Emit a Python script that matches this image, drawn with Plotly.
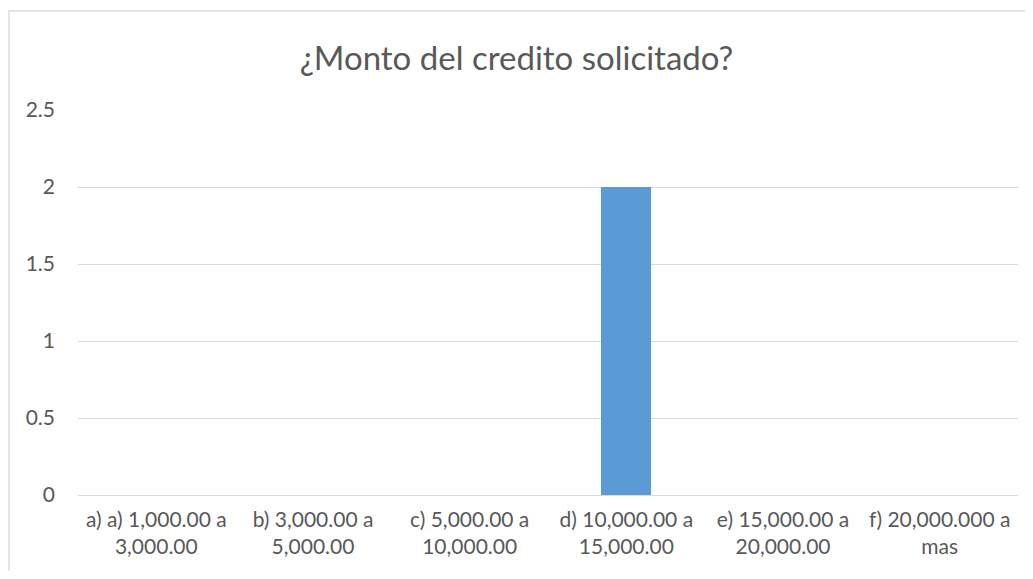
import plotly.graph_objects as go

categorias = [
    "a) a) 1,000.00 a<br>3,000.00",
    "b) 3,000.00 a<br>5,000.00",
    "c) 5,000.00 a<br>10,000.00",
    "d) 10,000.00 a<br>15,000.00",
    "e) 15,000.00 a<br>20,000.00",
    "f) 20,000.000 a<br>mas",
]
valores = [0, 0, 0, 2, 0, 0]
y_ticks = [0, 0.5, 1, 1.5, 2, 2.5]
y_labels = ["0", "0.5", "1", "1.5", "2", "2.5"]

# la pagina tiene 8px de margen en el body
fig = go.Figure(go.Bar(x=categorias, y=valores, marker_color="#5b9bd5",
                       marker_line_width=0, width=0.32))

fig.update_layout(
    width=1017, height=563,
    margin=dict(l=70, r=7, t=102, b=76),
    paper_bgcolor="white", plot_bgcolor="white",
    font=dict(family="Lato, Carlito, Calibri, sans-serif", color="#595959", size=21),
    title=dict(text="¿Monto del credito solicitado?", x=0.5, xanchor="center",
               y=1 - 50 / 563, yanchor="middle",
               font=dict(size=33, color="#595959")),
    showlegend=False,
    bargap=0,
)
fig.update_xaxes(showgrid=False, showline=False, ticks="", ticklabelstandoff=10,
                 tickfont=dict(size=21))
fig.update_yaxes(range=[0, 2.5], tickvals=y_ticks, ticktext=y_labels,
                 showgrid=True, gridcolor="#d9d9d9", gridwidth=1.3,
                 zeroline=True, zerolinecolor="#d9d9d9", zerolinewidth=1.3,
                 ticks="", ticklabelstandoff=22, tickfont=dict(size=21))

# borde del area del grafico
fig.add_shape(type="rect", xref="paper", yref="paper",
              x0=(1 - 70) / 940, x1=1.2, y0=-0.5, y1=(385 + 102 - 3) / 385,
              line=dict(color="#d9d9d9", width=1.3), fillcolor="rgba(0,0,0,0)")

fig.write_html("out.html")
